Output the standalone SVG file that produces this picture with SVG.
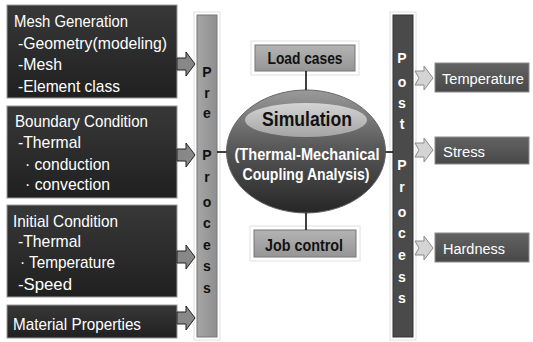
<svg xmlns="http://www.w3.org/2000/svg" width="533" height="342" viewBox="0 0 533 342">
<defs>
<linearGradient id="gDark" x1="0" y1="0" x2="0" y2="1"><stop offset="0" stop-color="#383838"/><stop offset="1" stop-color="#202020"/></linearGradient>
<linearGradient id="gMid" x1="0" y1="0" x2="0" y2="1"><stop offset="0" stop-color="#636363"/><stop offset="1" stop-color="#484848"/></linearGradient>
<linearGradient id="gLight" x1="0" y1="0" x2="0" y2="1"><stop offset="0" stop-color="#b4b4b4"/><stop offset="1" stop-color="#959595"/></linearGradient>
<linearGradient id="gEll" x1="0" y1="0" x2="0" y2="1"><stop offset="0" stop-color="#9a9a9a"/><stop offset="0.45" stop-color="#5a5a5a"/><stop offset="1" stop-color="#262626"/></linearGradient>
<linearGradient id="gHi" x1="0" y1="0" x2="0" y2="1"><stop offset="0" stop-color="#d4d4d4"/><stop offset="1" stop-color="#a4a4a4"/></linearGradient>
<linearGradient id="gBar" x1="0" y1="0" x2="1" y2="0"><stop offset="0" stop-color="#a6a6a6"/><stop offset="1" stop-color="#8e8e8e"/></linearGradient>
<path id="arrL" d="M0,-6 H9 V-12 L18,0 L9,12 V6 H0 Z"/>
<path id="arrR" d="M0,-7 H9 V-12 L18,0 L9,12 V7 H0 L4,0 Z"/>
</defs>
<style>
.lb{fill:url(#gDark);stroke:#9a9a9a;stroke-width:1}
.lt{font-family:"Liberation Sans",Arial,sans-serif;font-size:17px;fill:#fff}
.rb{fill:url(#gMid);stroke:#8c8c8c;stroke-width:1}
.rt{font-family:"Liberation Sans",Arial,sans-serif;font-size:15.5px;fill:#fff}
.gb{fill:url(#gLight);stroke:#777;stroke-width:1}
.gt{font-family:"Liberation Sans",Arial,sans-serif;font-size:16px;font-weight:bold;fill:#111;text-anchor:middle}
.glow{fill:#fff;stroke:#e0e0e0;stroke-width:1}
.pl{font-family:"Liberation Sans",Arial,sans-serif;font-size:14px;font-weight:bold;fill:#111;text-anchor:middle}
.ql{font-family:"Liberation Sans",Arial,sans-serif;font-size:14px;font-weight:bold;fill:#fff;text-anchor:middle}
.al{fill:#888;stroke:#222;stroke-width:1}
.ar{fill:#d4d4d4;stroke:#8a8a8a;stroke-width:1}
.ln{stroke:#111;stroke-width:1.6;fill:none}
</style>
<rect width="533" height="342" fill="#fff"/>

<g id="mesh-generation">
<rect class="lb" x="7" y="5" width="170" height="93"/>
<text class="lt" x="14" y="27" textLength="114" lengthAdjust="spacingAndGlyphs">Mesh Generation</text>
<text class="lt" x="18" y="49" textLength="149" lengthAdjust="spacingAndGlyphs">-Geometry(modeling)</text>
<text class="lt" x="18" y="70" textLength="44" lengthAdjust="spacingAndGlyphs">-Mesh</text>
<text class="lt" x="18" y="92" textLength="102" lengthAdjust="spacingAndGlyphs">-Element class</text>
</g>
<g id="boundary-condition">
<rect class="lb" x="7" y="106" width="170" height="92"/>
<text class="lt" x="15" y="127" textLength="133" lengthAdjust="spacingAndGlyphs">Boundary Condition</text>
<text class="lt" x="18" y="148" textLength="63" lengthAdjust="spacingAndGlyphs">-Thermal</text>
<text class="lt" x="25" y="170" textLength="85" lengthAdjust="spacingAndGlyphs">· conduction</text>
<text class="lt" x="25" y="190" textLength="85" lengthAdjust="spacingAndGlyphs">· convection</text>
</g>
<g id="initial-condition">
<rect class="lb" x="7" y="205" width="170" height="92"/>
<text class="lt" x="13" y="227" textLength="105" lengthAdjust="spacingAndGlyphs">Initial Condition</text>
<text class="lt" x="18" y="247" textLength="63" lengthAdjust="spacingAndGlyphs">-Thermal</text>
<text class="lt" x="20" y="268" textLength="95" lengthAdjust="spacingAndGlyphs">· Temperature</text>
<text class="lt" x="18" y="290" textLength="54" lengthAdjust="spacingAndGlyphs">-Speed</text>
</g>
<g id="material-properties">
<rect class="lb" x="7" y="305" width="170" height="33"/>
<text class="lt" x="13" y="330" textLength="128" lengthAdjust="spacingAndGlyphs">Material Properties</text>
</g>

<g id="pre-process">
<rect class="glow" x="194" y="12" width="26" height="328"/>
<rect x="197" y="15" width="20" height="322" fill="url(#gBar)" stroke="#777" stroke-width="1"/>
<text class="pl" x="207" y="77">P</text>
<text class="pl" x="207" y="98">r</text>
<text class="pl" x="207" y="118">e</text>
<text class="pl" x="207" y="160">P</text>
<text class="pl" x="207" y="182">r</text>
<text class="pl" x="207" y="207">o</text>
<text class="pl" x="207" y="228">c</text>
<text class="pl" x="207" y="250">e</text>
<text class="pl" x="207" y="271">s</text>
<text class="pl" x="207" y="293">s</text>
</g>

<g id="load-cases">
<rect class="glow" x="251" y="41" width="108" height="34"/>
<rect class="gb" x="255" y="45" width="100" height="26"/>
<text class="gt" x="305" y="64" textLength="75" lengthAdjust="spacingAndGlyphs">Load cases</text>
</g>

<g id="simulation">
<ellipse cx="306" cy="151.5" rx="79.5" ry="61.5" fill="url(#gEll)" stroke="#666" stroke-width="1"/>
<ellipse cx="306" cy="120" rx="61" ry="17" fill="url(#gHi)"/>
<text x="307" y="126" font-family="'Liberation Sans',Arial,sans-serif" font-size="21" font-weight="bold" fill="#111" text-anchor="middle" textLength="90" lengthAdjust="spacingAndGlyphs">Simulation</text>
<text x="307" y="160" font-family="'Liberation Sans',Arial,sans-serif" font-size="16" font-weight="bold" fill="#fff" text-anchor="middle" textLength="145" lengthAdjust="spacingAndGlyphs">(Thermal-Mechanical</text>
<text x="306" y="180" font-family="'Liberation Sans',Arial,sans-serif" font-size="16" font-weight="bold" fill="#fff" text-anchor="middle" textLength="127" lengthAdjust="spacingAndGlyphs">Coupling Analysis)</text>
</g>

<g id="job-control">
<rect class="glow" x="250" y="226" width="110" height="35"/>
<rect class="gb" x="254" y="230" width="102" height="27"/>
<text class="gt" x="304" y="251" textLength="78" lengthAdjust="spacingAndGlyphs">Job control</text>
</g>

<g id="post-process">
<rect class="glow" x="390" y="12" width="26" height="328"/>
<rect x="393" y="15" width="20" height="322" fill="#4a4a4a" stroke="#333" stroke-width="1"/>
<text class="ql" x="402" y="63">P</text>
<text class="ql" x="402" y="87">o</text>
<text class="ql" x="402" y="108">s</text>
<text class="ql" x="402" y="129">t</text>
<text class="ql" x="402" y="170">P</text>
<text class="ql" x="402" y="192">r</text>
<text class="ql" x="402" y="217">o</text>
<text class="ql" x="402" y="238">c</text>
<text class="ql" x="402" y="260">e</text>
<text class="ql" x="402" y="282">s</text>
<text class="ql" x="402" y="303">s</text>
</g>

<g id="temperature">
<rect class="rb" x="435" y="63" width="94" height="29"/>
<text class="rt" x="442" y="84" textLength="82" lengthAdjust="spacingAndGlyphs">Temperature</text>
</g>
<g id="stress">
<rect class="rb" x="435" y="137" width="94" height="27"/>
<text class="rt" x="443" y="157" textLength="42" lengthAdjust="spacingAndGlyphs">Stress</text>
</g>
<g id="hardness">
<rect class="rb" x="435" y="233" width="94" height="29"/>
<text class="rt" x="443" y="254" textLength="62" lengthAdjust="spacingAndGlyphs">Hardness</text>
</g>

<g id="connectors">
<use href="#arrL" class="al" transform="translate(177,64)"/>
<use href="#arrL" class="al" transform="translate(177,155)"/>
<use href="#arrL" class="al" transform="translate(177,257)"/>
<use href="#arrL" class="al" transform="translate(177,318)"/>
<use href="#arrR" class="ar" transform="translate(415,78)"/>
<use href="#arrR" class="ar" transform="translate(415,150)"/>
<use href="#arrR" class="ar" transform="translate(415,248)"/>
<line class="ln" x1="217" y1="152" x2="226.5" y2="152"/>
<line class="ln" x1="385.5" y1="152" x2="393" y2="152"/>
<line class="ln" x1="306" y1="71" x2="306" y2="90"/>
<line class="ln" x1="306" y1="213" x2="306" y2="230"/>
</g>
</svg>
